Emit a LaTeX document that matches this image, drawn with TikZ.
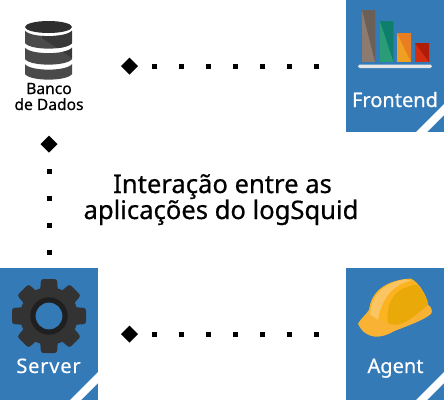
\documentclass[tikz,border=0pt]{standalone}
\usepackage{fontspec}
\setmainfont{Noto Sans}
\newfontfamily\medfont[RawFeature={embolden=0.5}]{Noto Sans}
\usetikzlibrary{shapes.geometric}
\definecolor{tileblue}{HTML}{337AB7}
\definecolor{gearc}{HTML}{333333}
\definecolor{gearring}{HTML}{1F1F1F}
\definecolor{dbtop}{HTML}{2E2E2E}
\definecolor{dblight}{HTML}{4A4A4A}
\definecolor{dbdark}{HTML}{383838}
\definecolor{barAl}{HTML}{8D7B6F}
\definecolor{barAd}{HTML}{6B6058}
\definecolor{barBl}{HTML}{2A9D78}
\definecolor{barBd}{HTML}{0D7F6C}
\definecolor{barCl}{HTML}{F0A020}
\definecolor{barCd}{HTML}{E97D22}
\definecolor{barDl}{HTML}{D42E12}
\definecolor{barDd}{HTML}{B01C08}
\definecolor{shelfc}{HTML}{E6E6E6}
\definecolor{hatbrim}{HTML}{F9B233}
\definecolor{hatmid}{HTML}{FBB41F}
\definecolor{hatlight}{HTML}{FCC563}
\definecolor{hatmain}{HTML}{E9A908}
\tikzset{
  x=1pt,y=-1pt,
  tile/.style={fill=tileblue,draw=none,minimum width=98pt,minimum height=132pt,inner sep=0pt,outer sep=0pt},
  tilelabel/.style={text=white,anchor=base,inner sep=0pt,font=\medfont\fontsize{20}{22}\selectfont},
  stripe/.style={fill=white},
  endmark/.style={diamond,fill=black,draw=none,minimum width=17pt,minimum height=17pt,inner sep=0pt,outer sep=0pt},
  dotted link/.style={line width=5pt,draw=black,dash pattern=on 5pt off 22pt},
  title/.style={anchor=base,inner sep=0pt,font=\medfont\fontsize{25.6}{28}\selectfont},
  dbtext/.style={anchor=base,inner sep=0pt,font=\medfont\fontsize{15.6}{17}\selectfont},
}
\begin{document}
\begin{tikzpicture}
\useasboundingbox (0,0) rectangle (444,400);
\fill[white] (0,0) rectangle (444,400);
% tiles
\node[tile] (frontend) at (395,66) {};
\node[tile] (server) at (49,334) {};
\node[tile] (agent) at (395,334) {};
\fill[stripe] (416,132) -- (444,104) -- (444,115) -- (427,132) -- cycle;
\fill[stripe] (70,400) -- (98,372) -- (98,383) -- (81,400) -- cycle;
\fill[stripe] (416,400) -- (444,372) -- (444,383) -- (427,400) -- cycle;
% labels
\node[tilelabel] (lf) at (395,107) {Frontend};
\node[tilelabel] (ls) at (48.5,373) {\addfontfeature{LetterSpace=4}Server};
\node[tilelabel] (la) at (395.5,373) {Agent};
\node[dbtext] (lb1) at (49,94) {Banco};
\node[dbtext] (lb2) at (49,110) {de Dados};
\node[title] (t1) at (222.5,193) {Interação entre as};
\node[title] (t2) at (221,219) {aplicações do logSquid};
% connectors
\node[endmark] (d1) at (129.5,66) {};
\node[endmark] (d2) at (49,144) {};
\node[endmark] (d3) at (129.5,334) {};
\draw[dotted link,dash phase=13pt,shorten >=26pt] (d1.east) -- (frontend.west);
\draw[dotted link,dash phase=13pt,shorten >=26pt] (d3.east) -- (agent.west);
\draw[dotted link,dash phase=11pt,shorten >=11pt] (d2.south) -- (server.north);
% database
\fill[dbtop] (48.5,27) ellipse [x radius=23.5,y radius=6];
\foreach \t/\b in {30.5/43,47.5/59,64/74}{
  \fill[dblight] (25,\t) .. controls (30,\t+7.5) and (67,\t+7.5) .. (72,\t) -- (72,\b) .. controls (67,\b+7.5) and (30,\b+7.5) .. (25,\b) -- cycle;
  \begin{scope}
  \clip (42,38) -- (72,58) -- (72,30) -- (42,30) -- cycle;
  \fill[dbdark] (25,\t) .. controls (30,\t+7.5) and (67,\t+7.5) .. (72,\t) -- (72,\b) .. controls (67,\b+7.5) and (30,\b+7.5) .. (25,\b) -- cycle;
  \end{scope}
}
% chart
\fill[barAl] (362,10) rectangle (375,62);
\fill[barAd] (362,10) -- (375,10) -- (375,62) -- cycle;
\fill[barBl] (380,21) rectangle (393.5,62);
\fill[barBd] (380,21) -- (393.5,21) -- (393.5,62) -- cycle;
\fill[barCl] (397,33) rectangle (411,62);
\fill[barCd] (397,33) -- (411,33) -- (411,62) -- cycle;
\fill[barDl] (415,43) rectangle (429,62);
\fill[barDd] (415,43) -- (429,43) -- (429,62) -- cycle;
\fill[shelfc,rounded corners=1.7] (358,64.5) rectangle (432,68);
% gear
\fill[gearc] (49,316) circle [radius=29];
\foreach \a in {0,45,...,315}{
  \fill[gearc,rotate around={\a:(49,316)},rounded corners=2.5] (41,279) -- (57,279) -- (58.5,300) -- (39.5,300) -- cycle;
}
\fill[gearring] (49,316) circle [radius=18.7];
\fill[tileblue] (49,316) circle [radius=13.4];
% helmet
\begin{scope}[shift={(352,272)},x=0.3333pt,y=-0.3333pt]
\fill[hatbrim] (18,155) .. controls (30,135) and (45,125) .. (52,112) .. controls (58,60) and (100,25) .. (175,20) .. controls (195,25) and (225,70) .. (228,98) .. controls (238,105) and (242,115) .. (238,125) .. controls (215,145) and (170,160) .. (125,178) .. controls (90,200) and (40,205) .. (18,155) -- cycle;
\fill[hatmid] (52,125) -- (52,112) .. controls (58,60) and (100,25) .. (175,20) .. controls (195,25) and (225,70) .. (228,98) -- (160,150) .. controls (140,160) and (120,160) .. (108,153) -- cycle;
\fill[hatlight] (55,128) .. controls (55,80) and (85,35) .. (160,22) -- (178,26) .. controls (120,38) and (90,80) .. (78,143) -- cycle;
\fill[hatmain] (108,153) .. controls (100,90) and (130,45) .. (195,38) .. controls (215,60) and (228,85) .. (228,98) .. controls (210,115) and (185,135) .. (160,150) .. controls (140,160) and (120,160) .. (108,153) -- cycle;
\end{scope}
\end{tikzpicture}
\end{document}
